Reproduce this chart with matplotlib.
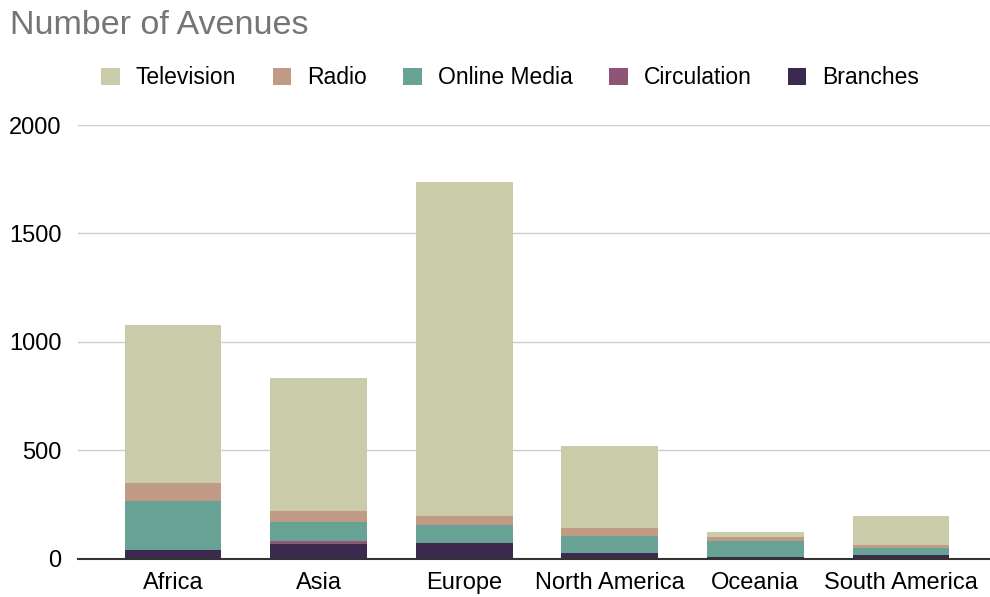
import matplotlib.pyplot as plt
import numpy as np

plt.rcParams['font.family'] = ['Liberation Sans', 'DejaVu Sans']

regions = ['Africa', 'Asia', 'Europe', 'North America', 'Oceania', 'South America']
branches = [40, 65, 73, 24, 8, 15]
circulation = [0, 16, 0, 0, 0, 0]
online_media = [226, 89, 80, 80, 74, 35]
radio = [83, 49, 43, 35, 16, 11]
television = [727, 613, 1539, 379, 23, 135]

series = [
    ('Branches', branches, '#3b2a4d'),
    ('Circulation', circulation, '#8e5577'),
    ('Online Media', online_media, '#67a295'),
    ('Radio', radio, '#c09a85'),
    ('Television', television, '#c9cba9'),
]

fig = plt.figure(figsize=(9.9, 5.97), dpi=100)
ax = fig.add_axes([78 / 990, 1 - 558.5 / 597, 912 / 990, (558.5 - 125) / 597])

x = np.arange(len(regions))
bottom = np.zeros(len(regions))
handles = {}
for name, vals, color in series:
    b = ax.bar(x, vals, bottom=bottom, width=0.666, color=color, label=name, zorder=2)
    handles[name] = b
    bottom += np.array(vals)

ax.set_xlim((78 - 173) / 145.6, (990 - 173) / 145.6)
ax.set_ylim(0, 2000)
ax.set_yticks([0, 500, 1000, 1500, 2000])
ax.set_xticks(x)
ax.set_xticklabels(regions, fontsize=17)
ax.tick_params(axis='y', labelsize=17, length=0, pad=12)
ax.tick_params(axis='x', length=0, pad=10)
ax.grid(axis='y', color='#cccccc', linewidth=1, zorder=0)
for s in ['top', 'right', 'left']:
    ax.spines[s].set_visible(False)
ax.spines['bottom'].set_color('#333333')
ax.spines['bottom'].set_linewidth(1.5)
ax.spines['bottom'].set_zorder(3)

fig.text(10 / 990, 1 - 26 / 597, 'Number of Avenues', fontsize=24.5, color='#757575', va='center', ha='left')

order = ['Television', 'Radio', 'Online Media', 'Circulation', 'Branches']
fig.legend([handles[n] for n in order], order, loc='center left', bbox_to_anchor=(92 / 990, 1 - 78 / 597),
           ncol=5, frameon=False, fontsize=16.5, handlelength=0.8, handleheight=0.8,
           handletextpad=0.7, columnspacing=1.6, borderaxespad=0)

fig.savefig('out.png', dpi=100)
